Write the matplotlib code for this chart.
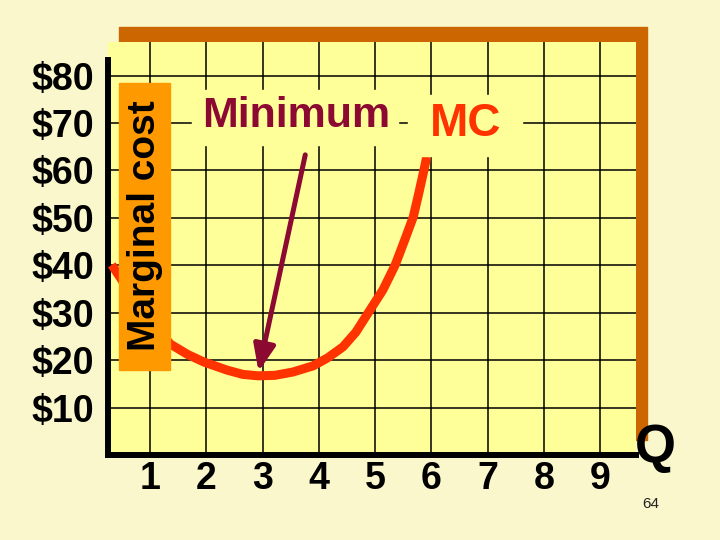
import matplotlib
matplotlib.use("Agg")
import matplotlib.pyplot as plt
import matplotlib.patches as mpatches

plt.rcParams['font.family'] = ['Liberation Sans', 'DejaVu Sans']

# data
q_ticks = [1, 2, 3, 4, 5, 6, 7, 8, 9]
cost_ticks = [10, 20, 30, 40, 50, 60, 70, 80]
cost_labels = ['$10', '$20', '$30', '$40', '$50', '$60', '$70', '$80']

mc_q = [0.32, 0.82, 1.36, 1.67, 1.96, 2.37, 2.65, 2.92, 3.22, 3.54, 3.90, 4.16,
        4.43, 4.66, 4.88, 5.14, 5.36, 5.53, 5.68, 5.78, 5.87, 5.92]
mc_cost = [40.1, 31.2, 23.4, 21.2, 19.6, 17.9, 17.0, 16.7, 16.8, 17.5, 18.8, 20.5,
           22.8, 25.9, 30.0, 34.8, 40.1, 45.4, 50.2, 55.3, 60.1, 62.9]

arrow_from = (3.76, 63.3)
arrow_to = (2.93, 17.6)

BG = '#F9F7CB'
PLOT = '#FFFF99'
SHADOW = '#CC6600'
ORANGE = '#FF9900'
RED = '#FF3300'
MAROON = '#8C0A32'

W, H = 720, 540


def fx(x):
    return x / W


def fy(y):
    return 1 - y / H


fig = plt.figure(figsize=(7.2, 5.4), dpi=100, facecolor=BG)

# brown shadow behind the plot box
fig.patches.append(mpatches.Rectangle((fx(119), fy(440)), (647 - 119) / W, (440 - 27) / H,
                                      transform=fig.transFigure, color=SHADOW, zorder=-1))

ax = fig.add_axes([fx(108), fy(455), (636 - 108) / W, (455 - 42) / H])
ax.set_facecolor(PLOT)
ax.set_xlim(0.253, 9.64)
ax.set_ylim(0, 87.1)

ax.set_xticks(q_ticks)
ax.set_xticklabels([str(v) for v in q_ticks])
ax.set_yticks(cost_ticks)
ax.set_yticklabels(cost_labels)
ax.tick_params(length=0, labelsize=27)
ax.tick_params(axis='x', pad=4)
ax.tick_params(axis='y', pad=10)
for lab in ax.get_xticklabels() + ax.get_yticklabels():
    lab.set_fontweight('bold')

ax.set_axisbelow(True)
ax.grid(True, color='black', lw=1.1)

for s in ['top', 'right']:
    ax.spines[s].set_visible(False)
for s in ['left', 'bottom']:
    ax.spines[s].set_linewidth(4.3)
    ax.spines[s].set_color('black')
    ax.spines[s].set_capstyle('projecting')
ax.spines['left'].set_bounds(0, 83.3)

ax.plot(mc_q, mc_cost, color=RED, lw=6.5, solid_capstyle='butt',
        solid_joinstyle='round', zorder=3)

ax.annotate('', xy=arrow_to, xytext=arrow_from,
            arrowprops=dict(arrowstyle='-|>,head_length=0.8,head_width=0.33',
                            color=MAROON, lw=3.6, mutation_scale=20,
                            shrinkA=0, shrinkB=0), zorder=4)

# boxes that cover the grid behind the labels
fig.patches.append(mpatches.Rectangle((fx(192), fy(145)), (398 - 192) / W, (145 - 90) / H,
                                      transform=fig.transFigure, color=PLOT, zorder=1))
fig.patches.append(mpatches.Rectangle((fx(408), fy(156)), (522 - 408) / W, (156 - 95) / H,
                                      transform=fig.transFigure, color=PLOT, zorder=1))
fig.patches.append(mpatches.Rectangle((fx(119), fy(370)), (170 - 119) / W, (370 - 83) / H,
                                      transform=fig.transFigure, color=ORANGE, zorder=1))

fig.text(fx(296), fy(116), 'Minimum', fontsize=31, color=MAROON, fontweight='bold',
         ha='center', va='center')
fig.text(fx(466), fy(124), 'MC', fontsize=33, color=RED, fontweight='bold', ha='center', va='center')
fig.text(fx(145), fy(226), 'Marginal cost', fontsize=28, fontweight='bold', rotation=90,
         ha='center', va='center')
fig.text(fx(655), fy(448), 'Q', fontsize=38, fontweight='bold', ha='center', va='center')
fig.text(fx(651), fy(504), '64', fontsize=11, color='#222222', ha='center', va='center')

fig.savefig('out.png', dpi=100, facecolor=BG)
